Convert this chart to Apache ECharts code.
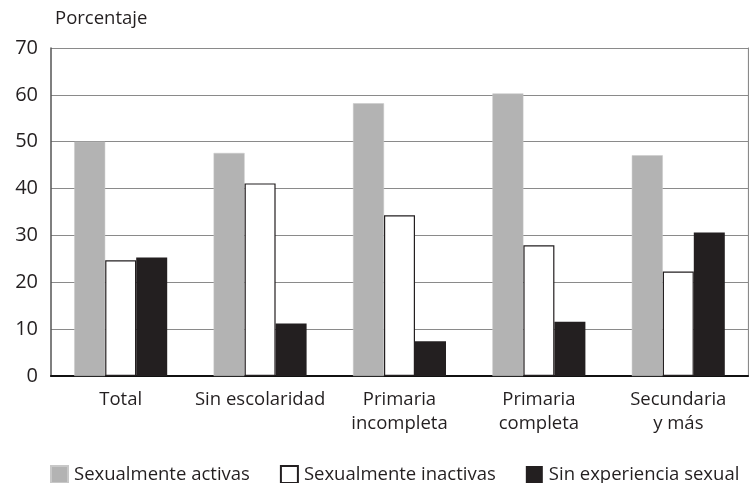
<!DOCTYPE html>
<html>
<head>
<meta charset="utf-8">
<script src="https://cdn.jsdelivr.net/npm/echarts@6/dist/echarts.min.js"></script>
<style>
  html, body { margin: 0; padding: 0; background: #fff; }
  #chart { width: 749px; height: 483px; }
</style>
</head>
<body>
<div id="chart"></div>
<script>
const categories = ['Total', 'Sin escolaridad', 'Primaria\nincompleta', 'Primaria\ncompleta', 'Secundaria\ny más'];
const activas = [50.0, 47.6, 58.2, 60.3, 47.1];
const inactivas = [24.7, 41.1, 34.3, 27.9, 22.3];
const sinExperiencia = [25.3, 11.2, 7.4, 11.6, 30.6];
const seriesNames = ['Sexualmente activas', 'Sexualmente inactivas', 'Sin experiencia sexual'];

const font = 'Open Sans';
const chart = echarts.init(document.getElementById('chart'));

const option = {
  animation: false,
  textStyle: { fontFamily: font },
  grid: { left: 51, right: 1, top: 48, bottom: 107 },
  legend: {
    top: 460,
    left: 45,
    itemWidth: 17,
    itemHeight: 17,
    itemGap: 30,
    icon: 'rect',
    textStyle: { fontSize: 18.5, color: '#231f20', fontFamily: font, padding: [0, 0, 0, 1] },
    data: seriesNames
  },
  xAxis: [{
    type: 'category',
    data: categories,
    axisLine: { show: true, lineStyle: { color: '#555', width: 1.5 } },
    axisTick: { show: false },
    axisLabel: { fontSize: 18.5, color: '#231f20', lineHeight: 24, margin: 12, interval: 0 }
  }, {
    type: 'category',
    position: 'top',
    data: categories,
    axisLine: { show: true, lineStyle: { color: '#111', width: 2 } },
    axisTick: { show: false },
    axisLabel: { show: false }
  }],
  yAxis: [{
    type: 'value',
    min: 0,
    max: 70,
    interval: 10,
    name: 'Porcentaje',
    nameLocation: 'end',
    nameGap: 20,
    nameTextStyle: { fontSize: 18.5, color: '#231f20', align: 'left', padding: [0, 0, 0, 4] },
    axisLine: { show: true, lineStyle: { color: '#555', width: 1.5 } },
    axisTick: { show: false },
    axisLabel: { fontSize: 20, color: '#231f20', margin: 13 },
    splitLine: { show: true, lineStyle: { color: '#8a8a8a', width: 1.2 } }
  }, {
    type: 'value',
    position: 'right',
    min: 0,
    max: 70,
    interval: 10,
    axisLine: { show: true, lineStyle: { color: '#8a8a8a', width: 1.2 } },
    axisTick: { show: false },
    axisLabel: { show: false },
    splitLine: { show: false }
  }],
  series: [{
    name: seriesNames[0],
    type: 'bar',
    data: activas,
    barWidth: 31,
    barGap: '0%',
    itemStyle: { color: '#b3b3b3', borderColor: '#c8c8c8', borderWidth: 0.5 }
  }, {
    name: seriesNames[1],
    type: 'bar',
    data: inactivas,
    barWidth: 31,
    barGap: '0%',
    itemStyle: { color: '#ffffff', borderColor: '#231f20', borderWidth: 1.2 }
  }, {
    name: seriesNames[2],
    type: 'bar',
    data: sinExperiencia,
    barWidth: 31,
    barGap: '0%',
    itemStyle: { color: '#231f20' }
  }]
};

chart.setOption(option);
</script>
</body>
</html>
